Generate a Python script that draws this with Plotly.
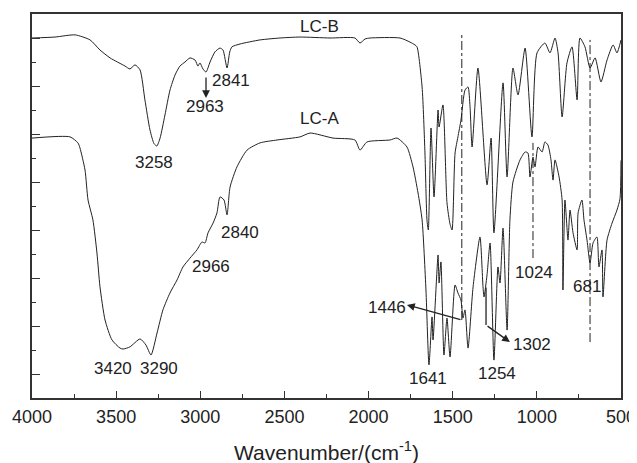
import plotly.graph_objects as go

# LC-B spectrum (wavenumber, relative transmittance, arbitrary units)
lcb_wn = [4000, 3863, 3744, 3655, 3596, 3536, 3447, 3418, 3388, 3358, 3329, 3299, 3275, 3258,
          3239, 3210, 3180, 3150, 3121, 3091, 3061, 3031, 3014, 3002, 2984, 2966, 2942, 2913,
          2883, 2865, 2841, 2825, 2812, 2764, 2645, 2526, 2407, 2229, 2081, 2051, 2021, 1991,
          1813, 1754, 1724, 1712, 1682, 1665, 1653, 1645, 1629, 1611, 1587, 1581, 1558, 1534,
          1516, 1504, 1486, 1469, 1451, 1427, 1409, 1397, 1385, 1350, 1296, 1272, 1255, 1201,
          1177, 1142, 1112, 1070, 1029, 999, 952, 922, 892, 874, 850, 821, 791, 761, 744, 714,
          684, 654, 619, 583, 547, 524, 500]
lcb_t = [15.0, 15.04, 15.13, 14.92, 14.5, 14.17, 13.83, 13.71, 13.88, 13.67, 12.42, 11.17, 10.6, 10.5,
         10.83, 11.79, 12.83, 13.46, 13.83, 14.0, 14.17, 14.08, 13.83, 13.96, 13.71, 13.58, 14.0, 14.42,
         14.58, 14.5, 13.75, 14.42, 14.63, 14.75, 14.92, 15.0, 15.04, 15.0, 15.0, 14.79, 14.96, 15.0,
         15.0, 14.83, 14.71, 14.63, 12.96, 10.21, 7.42, 7.0, 11.25, 8.38, 12.0, 11.29, 12.21, 8.13,
         7.25, 7.0, 10.21, 10.88, 11.58, 12.83, 12.96, 12.13, 10.46, 13.75, 8.88, 10.83, 6.88, 13.13,
         9.21, 13.75, 12.63, 14.58, 10.88, 14.38, 14.79, 14.38, 15.0, 14.38, 11.71, 13.96, 14.63, 12.42, 15.0, 14.63,
         13.75, 14.17, 13.17, 14.08, 14.71, 14.38, 14.92]

# LC-A spectrum
lca_wn = [4000, 3774, 3727, 3715, 3685, 3667, 3638, 3614, 3596, 3566, 3525, 3477, 3459, 3418,
          3358, 3323, 3293, 3257, 3222, 3180, 3138, 3103, 3061, 3020, 2990, 2972, 2954, 2924,
          2901, 2883, 2859, 2841, 2823, 2782, 2722, 2645, 2544, 2407, 2348, 2211, 2081, 2051,
          2009, 1873, 1831, 1772, 1736, 1706, 1682, 1659, 1641, 1623, 1617, 1587, 1581, 1570,
          1552, 1534, 1516, 1486, 1469, 1451, 1439, 1427, 1409, 1379, 1338, 1320, 1314, 1296,
          1278, 1255, 1231, 1219, 1201, 1177, 1160, 1142, 1100, 1070, 1053, 1041, 1023, 1011,
          993, 969, 952, 934, 916, 904, 892, 868, 850, 845, 833, 815, 803, 785, 761, 755, 732,
          720, 702, 684, 666, 643, 631, 613, 607, 583, 553, 524, 506, 500]
lca_t = [10.83, 10.88, 10.63, 10.42, 9.5, 8.25, 7.42, 6.04, 4.63, 3.25, 2.42, 2.08, 2.04, 2.13,
         2.46, 2.21, 1.79, 2.71, 3.67, 4.38, 4.92, 5.46, 5.83, 6.17, 6.5, 6.46, 6.88, 7.29,
         7.71, 8.38, 8.25, 7.63, 8.79, 9.63, 10.33, 10.63, 10.75, 10.88, 11.04, 10.83, 10.75, 10.33,
         10.67, 10.75, 10.83, 10.46, 9.63, 8.54, 7.42, 4.5, 1.38, 3.38, 2.42, 5.96, 4.79, 5.67,
         1.79, 3.33, 1.71, 4.71, 4.38, 4.08, 3.33, 3.67, 2.08, 4.63, 6.71, 4.63, 4.21, 5.13,
         6.46, 1.58, 5.46, 4.79, 7.08, 2.83, 7.42, 9.0, 9.92, 10.25, 10.21, 9.21, 10.04, 9.63,
         10.46, 10.25, 10.67, 10.54, 9.92, 9.08, 9.92, 9.21, 8.25, 4.5, 8.25, 6.58, 7.83, 6.88, 6.17, 7.71, 8.25,
         7.42, 6.58, 5.63, 6.46, 6.71, 5.46, 6.17, 4.21, 6.58, 7.29, 7.83, 8.3, 9.9]

# Peak labels
peak_text = ["3258", "2841", "2963", "2840", "2966", "3420", "3290", "1641", "1254", "1302", "1446", "1024", "681"]
peak_x = [3275, 2817, 2972, 2764, 2936, 3519, 3245, 1647, 1237, 1029, 1890, 1017, 702]
peak_y = [9.83, 13.21, 12.13, 6.88, 5.46, 1.25, 1.25, 0.83, 1.04, 2.21, 3.79, 5.25, 4.63]

FONT = "Liberation Sans, Arial, sans-serif"
LINE = "#222222"

fig = go.Figure()
fig.add_trace(go.Scatter(x=lcb_wn, y=lcb_t, mode="lines", name="LC-B",
                         line=dict(color=LINE, width=1, shape="spline", smoothing=0.6)))
fig.add_trace(go.Scatter(x=lca_wn, y=lca_t, mode="lines", name="LC-A",
                         line=dict(color=LINE, width=1, shape="spline", smoothing=0.6)))

ann = []
ann.append(dict(x=2289, y=15.46, text="LC-B", showarrow=False, font=dict(size=17, family=FONT, color="#222")))
ann.append(dict(x=2289, y=11.63, text="LC-A", showarrow=False, font=dict(size=17, family=FONT, color="#222")))
for t, px, py in zip(peak_text, peak_x, peak_y):
    ann.append(dict(x=px, y=py, text=t, showarrow=False, font=dict(size=17, family=FONT, color="#222")))

# arrows
arrow_style = dict(showarrow=True, text="", arrowhead=2, arrowsize=1.2, arrowwidth=1.3,
                   arrowcolor="#222", axref="x", ayref="y", standoff=0, startstandoff=0)
ann.append(dict(x=2966, y=12.5, ax=2966, ay=13.42, **arrow_style))
ann.append(dict(x=1772, y=3.88, ax=1445, ay=3.25, **arrow_style))
ann.append(dict(x=1160, y=2.33, ax=1302, ay=3.04, **arrow_style))

shapes = [
    dict(type="line", x0=1302, x1=1302, y0=3.04, y1=4.6, line=dict(color="#222", width=1.3)),
    dict(type="line", x0=1446, x1=1446, y0=3.25, y1=15.13, line=dict(color="#222", width=1, dash="dashdot")),
    dict(type="line", x0=1023, x1=1023, y0=5.83, y1=10.63, line=dict(color="#222", width=1, dash="dashdot")),
    dict(type="line", x0=684, x1=684, y0=2.33, y1=14.92, line=dict(color="#222", width=1, dash="dashdot")),
]

# page body adds an 8px offset; margins compensate so the frame sits at x 32-621, y 14-398
fig.update_layout(
    width=637, height=463,
    margin=dict(l=24, r=24, t=6, b=73),
    paper_bgcolor="white", plot_bgcolor="white",
    showlegend=False,
    annotations=ann, shapes=shapes,
    font=dict(family=FONT, color="#222"),
)
fig.update_xaxes(range=[4000, 500], tickvals=[4000, 3500, 3000, 2500, 2000, 1500, 1000, 500],
                 ticks="inside", ticklen=7, tickwidth=1.3, tickcolor="#333",
                 minor=dict(ticks="inside", ticklen=4, dtick=250, tick0=500, tickcolor="#333", tickwidth=1.3),
                 showline=True, linecolor="#333", linewidth=1.5, mirror=True,
                 showgrid=False, zeroline=False, automargin=False,
                 tickfont=dict(size=18, family=FONT, color="#222"),
                 ticklabelstandoff=2,
                 title=dict(text="Wavenumber/(cm<sup>-1</sup>)", font=dict(size=21, family=FONT, color="#222"), standoff=19))
fig.update_yaxes(range=[0, 16], tick0=1, dtick=2, showticklabels=False,
                 ticks="inside", ticklen=8, tickwidth=1.3, tickcolor="#333",
                 minor=dict(ticks="inside", ticklen=4, dtick=1, tick0=0, tickcolor="#333", tickwidth=1.3),
                 showline=True, linecolor="#333", linewidth=1.5, mirror=True,
                 showgrid=False, zeroline=False, automargin=False)

fig.write_html("out.html")
